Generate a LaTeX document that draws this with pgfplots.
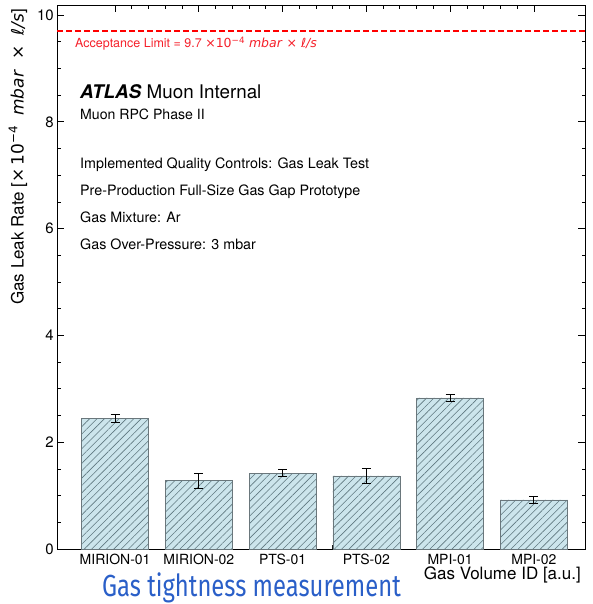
\documentclass[border=0pt]{standalone}
\usepackage{pgfplots}
\pgfplotsset{compat=1.18}
\usepackage{pgfplotstable}
\usepackage{fontspec}
\setmainfont{TeX Gyre Heros}
\newfontfamily\dejavu{DejaVu Sans}
\newfontfamily\condfont[FakeStretch=0.78]{Fira Sans}
\usetikzlibrary{patterns.meta}
\definecolor{barfill}{HTML}{CCE5EC}
\definecolor{baredge}{HTML}{6A777C}
\definecolor{hatch}{HTML}{5F7880}
\definecolor{titleblue}{HTML}{2A5FC8}
\definecolor{limred}{HTML}{F5202A}

\pgfplotstableread{
x y e
0 2.44 0.075
1 1.28 0.14
2 1.42 0.07
3 1.37 0.14
4 2.83 0.07
5 0.92 0.07
}\leak

\begin{document}
\begin{tikzpicture}
\path (0,0) rectangle (592pt,604pt);
\begin{axis}[
  at={(57.3pt,55pt)}, anchor=south west,
  scale only axis, width=527.7pt, height=543.5pt,
  xmin=-0.69, xmax=5.61, ymin=0, ymax=10.18,
  xtick={0,...,5},
  xticklabels={MIRION-01,MIRION-02,PTS-01,PTS-02,MPI-01,MPI-02},
  minor x tick num=4,
  ytick={0,2,...,10}, minor y tick num=3,
  tick align=inside,
  major tick length=7pt, minor tick length=3.5pt,
  every tick/.style={black, line width=0.8pt},
  axis line style={black, line width=0.9pt},
  /pgf/number format/assume math mode=true,
  xticklabel style={font=\fontsize{14}{16}\selectfont, yshift=-2pt},
  yticklabel style={font=\fontsize{15}{17}\selectfont},
  clip=false,
]
\addplot[red, line width=1.3pt, dash pattern=on 6pt off 3pt, mark=none] coordinates {(-0.69,9.7) (5.61,9.7)};
\addplot[ybar, bar width=0.8, fill=barfill, draw=baredge, line width=0.7pt,
  postaction={pattern={Lines[angle=45,distance=5.2pt,line width=0.6pt]}, pattern color=hatch},
  error bars/.cd, y dir=both, y explicit,
  error mark=|,
  error bar style={draw=black, line width=0.9pt, solid},
  error mark options={draw=black, line width=0.9pt, mark size=4.5pt}]
  table[x=x, y=y, y error=e] {\leak};
\end{axis}
% texts
\node[anchor=base west, inner sep=0, text=limred, font=\fontsize{12.5}{14}\selectfont]
  at (75pt,556pt) {Acceptance Limit = 9.7 {\dejavu ×10\textsuperscript{−4} \textit{mbar} × \textit{ℓ/s}}};
\node[anchor=base west, inner sep=0, font=\fontsize{18.8}{22}\selectfont]
  at (80pt,505pt) {\textbf{\textit{ATLAS}} Muon Internal};
\node[anchor=base west, inner sep=0, font=\fontsize{14.1}{16}\selectfont]
  at (80pt,484pt) {Muon RPC Phase II};
\node[anchor=base west, inner sep=0, font=\fontsize{14.3}{16}\selectfont]
  at (80pt,435pt) {Implemented Quality Controls: Gas Leak Test};
\node[anchor=base west, inner sep=0, font=\fontsize{14.3}{16}\selectfont]
  at (80pt,408pt) {Pre-Production Full-Size Gas Gap Prototype};
\node[anchor=base west, inner sep=0, font=\fontsize{14.3}{16}\selectfont]
  at (80pt,381.3pt) {Gas Mixture: Ar};
\node[anchor=base west, inner sep=0, font=\fontsize{14.3}{16}\selectfont]
  at (80pt,354pt) {Gas Over-Pressure: 3 mbar};
\node[anchor=base east, inner sep=0, font=\fontsize{17}{19}\selectfont]
  at (581pt,24pt) {Gas Volume ID [a.u.]};
\node[rotate=90, anchor=east, inner sep=0, font=\fontsize{17}{19}\selectfont]
  at (18pt,595pt) {Gas Leak Rate [{\dejavu ×\,10\textsuperscript{−4}\; \textit{mbar}\; ×\; \textit{ℓ/s}}]};
\node[anchor=base west, inner sep=0, text=titleblue, font=\condfont\fontsize{30.5}{34}\selectfont]
  at (102pt,7pt) {Gas tightness measurement};
\end{tikzpicture}
\end{document}
